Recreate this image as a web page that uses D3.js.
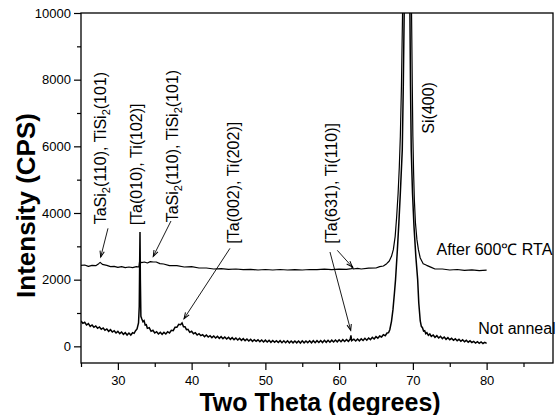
<!DOCTYPE html>
<html>
<head>
<meta charset="utf-8">
<script src="https://cdn.jsdelivr.net/npm/d3@7"></script>
<style>
  html, body { margin: 0; padding: 0; background: #fff; }
  svg { display: block; font-family: "Liberation Sans", Arial, sans-serif; }
</style>
</head>
<body>
<svg id="chart" width="556" height="415"></svg>
<script>
// ---------- data (2θ in degrees, intensity in CPS) ----------
const xMajorTicks = [30, 40, 50, 60, 70, 80];
const xMinorTicks = [25, 35, 45, 55, 65, 75, 85];
const yMajorTicks = [0, 2000, 4000, 6000, 8000, 10000];
const yMinorTicks = [1000, 3000, 5000, 7000, 9000];

const notAnneal = [
  [25,760],[25.25,690],[25.5,720],[25.75,640],[26,680],[26.25,600],[26.5,640],[26.75,570],[27,610],[27.25,540],
  [27.5,580],[27.75,510],[28,550],[28.25,480],[28.5,520],[28.75,450],[29,500],[29.25,430],[29.5,470],[29.75,400],
  [30,450],[30.25,380],[30.5,430],[30.75,360],[31,410],[31.25,340],[31.5,400],[31.75,340],[32,410],[32.2,390],
  [32.4,470],[32.6,520],[32.8,700],[32.9,1200],[32.95,2400],[33.0,3430],[33.05,2000],[33.12,900],[33.25,820],
  [33.4,740],[33.55,770],[33.7,640],[33.85,650],[34.0,540],[34.25,560],[34.5,450],[34.75,480],[35,400],[35.25,440],
  [35.5,370],[35.75,420],[36,360],[36.25,420],[36.5,370],[36.75,440],[37,400],[37.25,480],[37.5,470],[37.75,570],
  [38,570],[38.25,660],[38.5,650],[38.7,700],[38.9,590],[39.1,590],[39.3,500],[39.5,510],[39.75,420],[40,450],
  [40.25,380],[40.5,410],[40.75,340],[41,380],[41.25,320],[41.5,350],[41.75,290],[42,340],[42.25,280],[42.5,320],
  [42.75,260],[43,310],[43.25,250],[43.5,300],[43.75,240],[44,290],[44.25,230],[44.5,280],[44.75,220],[45,270],
  [45.25,210],[45.5,260],[45.75,200],[46,250],[46.25,190],[46.5,240],[46.75,180],[47,230],[47.25,170],[47.5,220],
  [47.75,160],[48,210],[48.25,150],[48.5,200],[48.75,150],[49,195],[49.25,140],[49.5,190],[49.75,130],[50,185],
  [50.25,130],[50.5,180],[50.75,120],[51,175],[51.25,120],[51.5,170],[51.75,115],[52,170],[52.25,110],[52.5,165],
  [52.75,110],[53,165],[53.25,105],[53.5,160],[53.75,105],[54,160],[54.25,105],[54.5,160],[54.75,100],[55,165],
  [55.25,105],[55.5,160],[55.75,110],[56,165],[56.25,105],[56.5,170],[56.75,110],[57,170],[57.25,115],[57.5,175],
  [57.75,115],[58,180],[58.25,120],[58.5,180],[58.75,125],[59,185],[59.25,130],[59.5,190],[59.75,135],[60,195],
  [60.25,140],[60.5,200],[60.75,145],[61,205],[61.25,150],[61.5,210],[61.6,330],[61.7,170],[62,215],[62.25,160],
  [62.5,220],[62.75,165],[63,225],[63.25,175],[63.5,240],[63.75,185],[64,250],[64.25,200],[64.5,270],[64.75,220],
  [65,290],[65.25,245],[65.5,310],[65.75,280],[66,350],[66.25,320],[66.5,400],[66.7,410],[66.87,500],[67.1,750],
  [67.3,1100],[67.5,1600],[67.65,2000],[67.9,2900],[68.1,3700],[68.3,4600],[68.56,5880],[68.7,7800],[68.82,10000],
  [68.95,14000],[69.2,30000],[69.45,14000],[69.6,10000],[69.68,7800],[69.78,5880],[69.95,4600],[70.15,3600],
  [70.4,2700],[70.65,2000],[70.8,1300],[71.0,760],[71.15,600],[71.3,560],[71.45,460],[71.6,470],[71.75,380],
  [71.9,410],[72.1,330],[72.3,370],[72.5,300],[72.75,340],[73,270],[73.25,320],[73.5,250],[73.75,300],[74,230],
  [74.25,280],[74.5,210],[74.75,260],[75,200],[75.25,240],[75.5,180],[75.75,225],[76,165],[76.25,210],[76.5,150],
  [76.75,195],[77,140],[77.25,180],[77.5,125],[77.75,165],[78,115],[78.25,150],[78.5,100],[78.75,140],[79,90],
  [79.25,130],[79.5,85],[79.75,120],[80,90]
];

const afterRTA = [
  [25,2430],[25.5,2440],[26,2400],[26.5,2430],[27,2420],[27.4,2480],[27.6,2520],[27.9,2460],[28.5,2430],[29,2390],
  [29.5,2400],[30,2370],[30.5,2390],[31,2360],[31.5,2380],[32,2360],[32.5,2390],[32.85,2380],[32.95,2560],[33.2,2510],
  [33.6,2530],[34,2500],[34.4,2540],[34.8,2530],[35.2,2530],[35.7,2480],[36.2,2470],[37,2420],[38,2420],[39,2380],
  [40,2390],[41,2350],[42,2350],[43,2320],[44,2330],[45,2310],[46,2320],[47,2300],[48,2310],[49,2290],[50,2305],
  [51,2290],[52,2305],[53,2290],[54,2300],[55,2290],[56,2305],[57,2300],[58,2315],[59,2300],[60,2315],[61,2310],
  [61.7,2330],[61.8,2400],[61.9,2320],[62.5,2340],[63,2320],[64,2345],[65,2350],[65.5,2390],[66,2410],[66.45,2480],
  [66.8,2560],[67.1,2700],[67.35,2900],[67.6,3300],[67.8,3880],[68.0,4600],[68.16,5380],[68.3,6300],[68.45,7800],
  [68.6,10000],[68.75,14000],[69.2,30000],[69.65,14000],[69.82,10000],[69.92,7800],[70.0,6300],[70.1,5200],[70.2,4400],
  [70.35,3700],[70.55,3200],[70.75,2900],[71.0,2650],[71.4,2480],[71.87,2430],[72.5,2370],[73,2320],[74,2320],[75,2290],
  [76,2305],[77,2280],[78,2295],[79,2270],[80,2285]
];

// peak labels: text ("_2" = subscript 2), anchor at start of text (2θ, CPS)
const peakLabelText = ["TaSi_2(110), TiSi_2(101)", "[Ta(010), Ti(102)]", "TaSi_2(110), TiSi_2(101)",
                       "[Ta(002), Ti(202)]", "[Ta(631), Ti(110)]", "Si(400)"];
const peakLabelAt = [[28.39,3660],[33.3,3630],[38.15,3720],[46.42,3080],[59.71,3080],[72.86,6380]];

// arrows: from (2θ, CPS) to (2θ, CPS)
const arrows = [
  [[28.66,3540],[27.67,2680]],
  [[37.2,3760],[34.8,2700]],
  [[45.2,2940],[38.97,830]],
  [[59.75,2880],[61.79,2380]],
  [[58.76,2830],[61.57,480]]
];

const seriesLabelText = ["After 600\u2103 RTA", "Not anneal"];
const seriesLabelAt = [[73.2,2730],[78.87,360]];

// ---------- layout ----------
const W = 556, H = 415;
const margin = {top: 13, right: 3, bottom: 52, left: 81};
const w = W - margin.left - margin.right;
const h = H - margin.top - margin.bottom;

const svg = d3.select("#chart");
const g = svg.append("g").attr("transform", `translate(${margin.left},${margin.top})`);

const x = d3.scaleLinear().domain([25, 89]).range([0, w]);
const y = d3.scaleLinear().domain([-500, 10000]).range([h, 0]);

// clip
const defs = svg.append("defs");
defs.append("clipPath").attr("id", "plotclip")
  .append("rect").attr("width", w).attr("height", h);

const marker = defs.append("marker")
  .attr("id", "arrowhead").attr("markerUnits", "userSpaceOnUse")
  .attr("viewBox", "-8 -4 10 8").attr("refX", 0).attr("refY", 0)
  .attr("markerWidth", 10).attr("markerHeight", 8).attr("orient", "auto");
marker.append("path").attr("d", "M-6,-2.2 L0,0 L-6,2.2")
  .attr("fill", "none").attr("stroke", "#000").attr("stroke-width", 1);

// axes
const tickFont = 13;
const xAxis = g.append("g").attr("transform", `translate(0,${h})`)
  .call(d3.axisBottom(x).tickValues(xMajorTicks).tickSize(7).tickPadding(6).tickFormat(d3.format("d")));
const xAxisMinor = g.append("g").attr("transform", `translate(0,${h})`)
  .call(d3.axisBottom(x).tickValues(xMinorTicks).tickSize(4).tickFormat(""));
const yAxis = g.append("g")
  .call(d3.axisLeft(y).tickValues(yMajorTicks).tickSize(7).tickPadding(3).tickFormat(d3.format("d")));
const yAxisMinor = g.append("g")
  .call(d3.axisLeft(y).tickValues(yMinorTicks).tickSize(4).tickFormat(""));

[xAxis, xAxisMinor, yAxis, yAxisMinor].forEach(a => {
  a.select(".domain").remove();
  a.selectAll("line").attr("stroke", "#000").attr("stroke-width", 1.2);
  a.selectAll("text").attr("fill", "#000").style("font-size", tickFont + "px")
    .style("font-family", "'Liberation Sans', Arial, sans-serif");
});

// curves
const line = d3.line().x(d => x(d[0])).y(d => y(d[1]));
const curves = g.append("g").attr("clip-path", "url(#plotclip)");
curves.append("path").datum(notAnneal).attr("d", line)
  .attr("fill", "none").attr("stroke", "#000").attr("stroke-width", 1.5).attr("stroke-linejoin", "miter");
curves.append("path").datum(afterRTA).attr("d", line)
  .attr("fill", "none").attr("stroke", "#000").attr("stroke-width", 1.2).attr("stroke-linejoin", "round");

// frame
g.append("rect").attr("width", w).attr("height", h)
  .attr("fill", "none").attr("stroke", "#000").attr("stroke-width", 1.3);

// arrows
g.append("g").selectAll("line").data(arrows).join("line")
  .attr("x1", d => x(d[0][0])).attr("y1", d => y(d[0][1]))
  .attr("x2", d => x(d[1][0])).attr("y2", d => y(d[1][1]))
  .attr("stroke", "#000").attr("stroke-width", 0.9)
  .attr("marker-end", "url(#arrowhead)");

// peak labels (rotated)
const labelFont = 16;
peakLabelText.forEach((txt, i) => {
  const [t, v] = peakLabelAt[i];
  const tx = g.append("text")
    .attr("transform", `translate(${x(t)},${y(v)}) rotate(-90)`)
    .attr("text-anchor", "start")
    .attr("fill", "#000")
    .style("font-size", labelFont + "px")
    .attr("xml:space", "preserve");
  const parts = txt.split("_2");
  parts.forEach((p, j) => {
    if (j > 0) {
      tx.append("tspan").attr("dy", 4).style("font-size", "11px").text("2");
      tx.append("tspan").attr("dy", -4).text(p);
    } else {
      tx.append("tspan").text(p);
    }
  });
});

// series labels
seriesLabelText.forEach((txt, i) => {
  const [t, v] = seriesLabelAt[i];
  g.append("text").attr("x", x(t)).attr("y", y(v))
    .attr("fill", "#000").style("font-size", "16px").text(txt);
});

// axis titles
svg.append("text")
  .attr("x", 320).attr("y", 411)
  .attr("text-anchor", "middle")
  .style("font-size", "25px").style("font-weight", "bold")
  .text("Two Theta (degrees)");
svg.append("text")
  .attr("transform", "translate(35,205.5) rotate(-90)")
  .attr("text-anchor", "middle")
  .style("font-size", "26px").style("font-weight", "bold")
  .text("Intensity (CPS)");
</script>
</body>
</html>
